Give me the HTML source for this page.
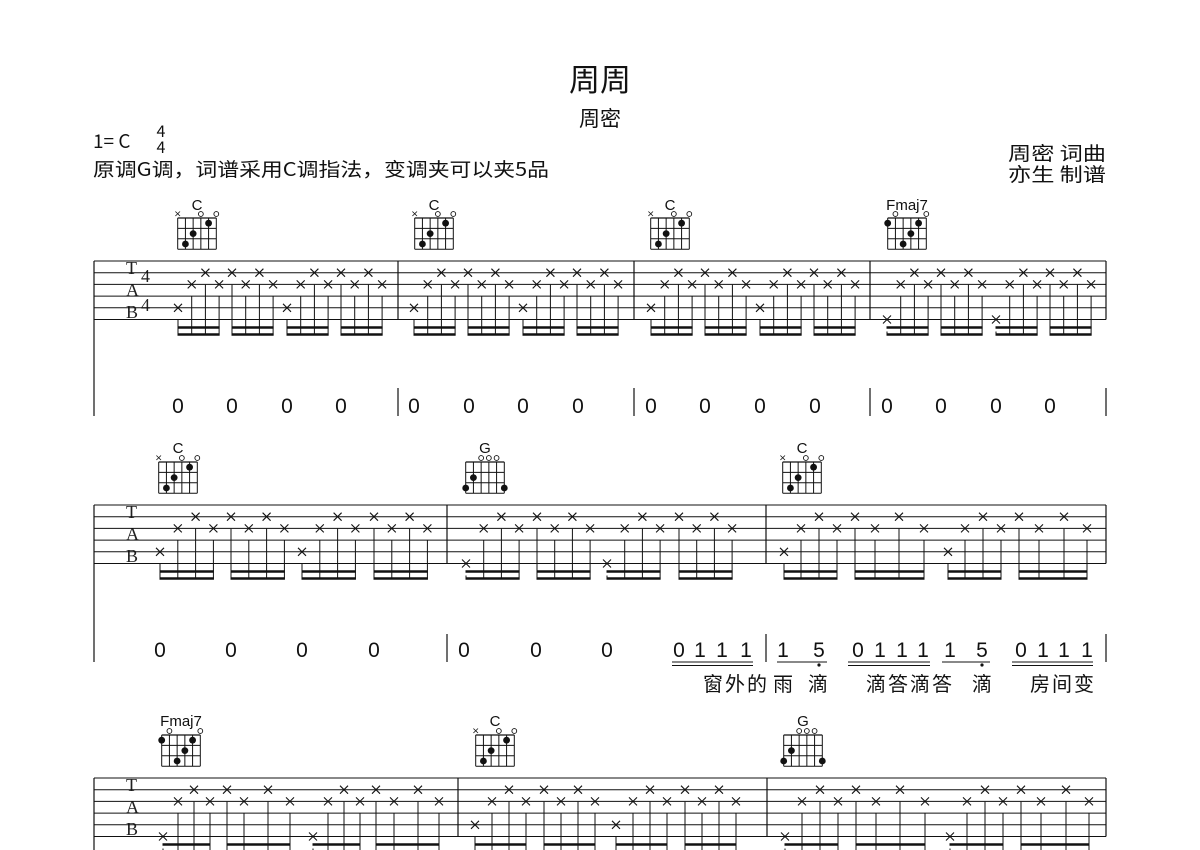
<!DOCTYPE html>
<html><head><meta charset="utf-8">
<style>
html,body{margin:0;padding:0;background:#fff;width:1200px;height:850px;overflow:hidden}
svg{display:block}
.cj{font-family:"Noto Sans CJK SC","Liberation Sans",sans-serif;fill:#111}
.num{font-family:"Liberation Sans",sans-serif;font-size:21px;fill:#111;text-anchor:middle}
.tab{font-family:"Liberation Serif",serif;font-size:18px;fill:#222}
.cn{font-family:"Liberation Sans",sans-serif;font-size:15px;fill:#111;text-anchor:middle}
</style></head>
<body>
<svg id="s" width="1200" height="850" viewBox="0 0 1200 850" xmlns="http://www.w3.org/2000/svg">
<rect width="1200" height="850" fill="#fff"/>
<text class="cj" x="600" y="91" font-size="31" text-anchor="middle">周周</text>
<text class="cj" x="600" y="126" font-size="21" text-anchor="middle">周密</text>
<text class="cj" x="93" y="148" font-size="19">1= C</text>
<text class="cj" x="161" y="137" font-size="16" text-anchor="middle">4</text>
<text class="cj" x="161" y="153" font-size="16" text-anchor="middle">4</text>
<text class="cj" x="93" y="176" font-size="19" textLength="456" lengthAdjust="spacingAndGlyphs">原调G调，词谱采用C调指法，变调夹可以夹5品</text>
<text class="cj" x="1008" y="160" font-size="19" textLength="98" lengthAdjust="spacingAndGlyphs">周密 词曲</text>
<text class="cj" x="1008" y="181" font-size="19" textLength="98" lengthAdjust="spacingAndGlyphs">亦生 制谱</text>

<text class="tab" x="126" y="274">T</text><text class="tab" x="126" y="296">A</text><text class="tab" x="126" y="318">B</text>
<text class="tab" x="141" y="282" font-size="20">4</text><text class="tab" x="141" y="311" font-size="20">4</text>
<text class="tab" x="126" y="518">T</text><text class="tab" x="126" y="540">A</text><text class="tab" x="126" y="562">B</text>
<text class="tab" x="126" y="791">T</text><text class="tab" x="126" y="813">A</text><text class="tab" x="126" y="835">B</text>

<text class="cn" x="197" y="210">C</text><text class="cn" x="434" y="210">C</text><text class="cn" x="670" y="210">C</text><text class="cn" x="907" y="210">Fmaj7</text>
<text class="cn" x="178" y="453">C</text><text class="cn" x="485" y="453">G</text><text class="cn" x="802" y="453">C</text>
<text class="cn" x="181" y="726">Fmaj7</text><text class="cn" x="495" y="726">C</text><text class="cn" x="803" y="726">G</text>

<g class="num">
<text x="178" y="413">0</text><text x="232" y="413">0</text><text x="287" y="413">0</text><text x="341" y="413">0</text>
<text x="414" y="413">0</text><text x="469" y="413">0</text><text x="523" y="413">0</text><text x="578" y="413">0</text>
<text x="651" y="413">0</text><text x="705" y="413">0</text><text x="760" y="413">0</text><text x="815" y="413">0</text>
<text x="887" y="413">0</text><text x="941" y="413">0</text><text x="996" y="413">0</text><text x="1050" y="413">0</text>
<text x="160" y="657">0</text><text x="231" y="657">0</text><text x="302" y="657">0</text><text x="374" y="657">0</text>
<text x="464" y="657">0</text><text x="536" y="657">0</text><text x="607" y="657">0</text>
<text x="679" y="657">0</text><text x="700" y="657">1</text><text x="722" y="657">1</text><text x="746" y="657">1</text>
<text x="783" y="657">1</text><text x="819" y="657">5</text>
<text x="858" y="657">0</text><text x="880" y="657">1</text><text x="902" y="657">1</text><text x="923" y="657">1</text>
<text x="950" y="657">1</text><text x="982" y="657">5</text>
<text x="1021" y="657">0</text><text x="1043" y="657">1</text><text x="1064" y="657">1</text><text x="1087" y="657">1</text>
</g>
<g class="cj" font-size="20" text-anchor="middle">
<text x="713" y="691">窗</text><text x="735" y="691">外</text><text x="757" y="691">的</text>
<text x="783" y="691">雨</text><text x="818" y="691">滴</text>
<text x="876" y="691">滴</text><text x="898" y="691">答</text><text x="920" y="691">滴</text><text x="942" y="691">答</text>
<text x="982" y="691">滴</text>
<text x="1040" y="691">房</text><text x="1062" y="691">间</text><text x="1084" y="691">变</text>
</g>
<g id="g" stroke="#111" fill="none"></g>
</svg>
<script>
var g=document.getElementById('g');
function el(t,a){var e=document.createElementNS('http://www.w3.org/2000/svg',t);for(var k in a)e.setAttribute(k,a[k]);g.appendChild(e);return e;}
function L(x1,y1,x2,y2,w){el('line',{x1:x1,y1:y1,x2:x2,y2:y2,'stroke-width':w||1});}
var SP=11.7;
function staff(top,bars,numBot){
  for(var i=0;i<6;i++)L(94,top+i*SP,1106,top+i*SP,1);
  L(94,top,94,numBot,1.2);
  bars.forEach(function(b){L(b,top,b,top+5*SP,1.2);L(b,numBot-28,b,numBot,1.2);});
}
function X(x,y){L(x-4,y-4,x+4,y+4,1.1);L(x-4,y+4,x+4,y-4,1.1);}
var pat=[5,3,2,3, 2,3,2,3, 5,3,2,3, 2,3,2,3];
function meas(top,xs,bass){
  var b1=top+5*SP+8,b2=top+5*SP+15;
  for(var i=0;i<16;i++){
    var s=pat[i]; if(s==5)s=bass;
    var y=top+(s-1)*SP; X(xs[i],y);
    L(xs[i],y+12,xs[i],b2+1,1);
  }
  for(var k=0;k<4;k++){
    L(xs[k*4]-0.5,b1,xs[k*4+3]+0.5,b1,2.5);
    L(xs[k*4]-0.5,b2,xs[k*4+3]+0.5,b2,2.5);
  }
}
function eq(beats,st){var r=[];beats.forEach(function(b){for(var j=0;j<4;j++)r.push(b+j*st);});return r;}
staff(261,[398,634,870,1106],416);
meas(261,eq([178,232,287,341],13.7),5);
meas(261,eq([414,468,523,577],13.7),5);
meas(261,eq([651,705,760,814],13.7),5);
meas(261,eq([887,941,996,1050],13.7),6);
staff(505,[447,766,1106],662);
meas(505,eq([160,231,302,374],17.8),5);
meas(505,eq([466,537,607,679],17.7),6);
meas(505,[784,801,819,837,855,875,899,924,948,965,983,1001,1019,1039,1064,1087],5);
(function(){var top=778;for(var i=0;i<6;i++)L(94,top+i*SP,1106,top+i*SP,1);L(94,top,94,850,1.2);[458,767,1106].forEach(function(b){L(b,top,b,top+5*SP,1.2);});})();
meas(778,[163,178,194,210,227,244,268,290,313,328,344,360,376,394,418,439],6);
meas(778,eq([475,544,616,685],17),5);
meas(778,[785,802,820,838,856,876,900,925,950,967,985,1003,1021,1041,1066,1089],6);
function dl(a,b){L(a,662,b,662,1);L(a,665.5,b,665.5,1);}
dl(672,753);dl(848,930);dl(1012,1093);
L(777,662,827,662,1);L(942,662,990,662,1);
el('circle',{cx:819,cy:665,r:1.6,fill:'#111',stroke:'none'});
el('circle',{cx:982,cy:665,r:1.6,fill:'#111',stroke:'none'});
var SH={C:['x',3,2,0,1,0],G:[3,2,0,0,0,3],F:[1,0,3,2,1,0]};
function chord(cx,top,k){
  var w=38.6,h=31.2,l=cx-w/2,sw=w/5,fh=h/3;
  for(var i=0;i<6;i++)L(l+i*sw,top,l+i*sw,top+h,1);
  for(var j=0;j<4;j++)L(l,top+j*fh,l+w,top+j*fh,j==0?1.3:1);
  SH[k].forEach(function(v,i){var x=l+i*sw;
    if(v==='x'){L(x-2.3,top-6.5,x+2.3,top-2,0.8);L(x-2.3,top-2,x+2.3,top-6.5,0.8);}
    else if(v===0)el('circle',{cx:x,cy:top-4,r:2.4,'stroke-width':0.9,fill:'#fff'});
    else el('circle',{cx:x,cy:top+(v-0.5)*fh,r:3.4,fill:'#111',stroke:'none'});
  });
}
chord(197,218,'C');chord(434,218,'C');chord(670,218,'C');chord(907,218,'F');
chord(178,462,'C');chord(485,462,'G');chord(802,462,'C');
chord(181,735,'F');chord(495,735,'C');chord(803,735,'G');
</script>
</body></html>
